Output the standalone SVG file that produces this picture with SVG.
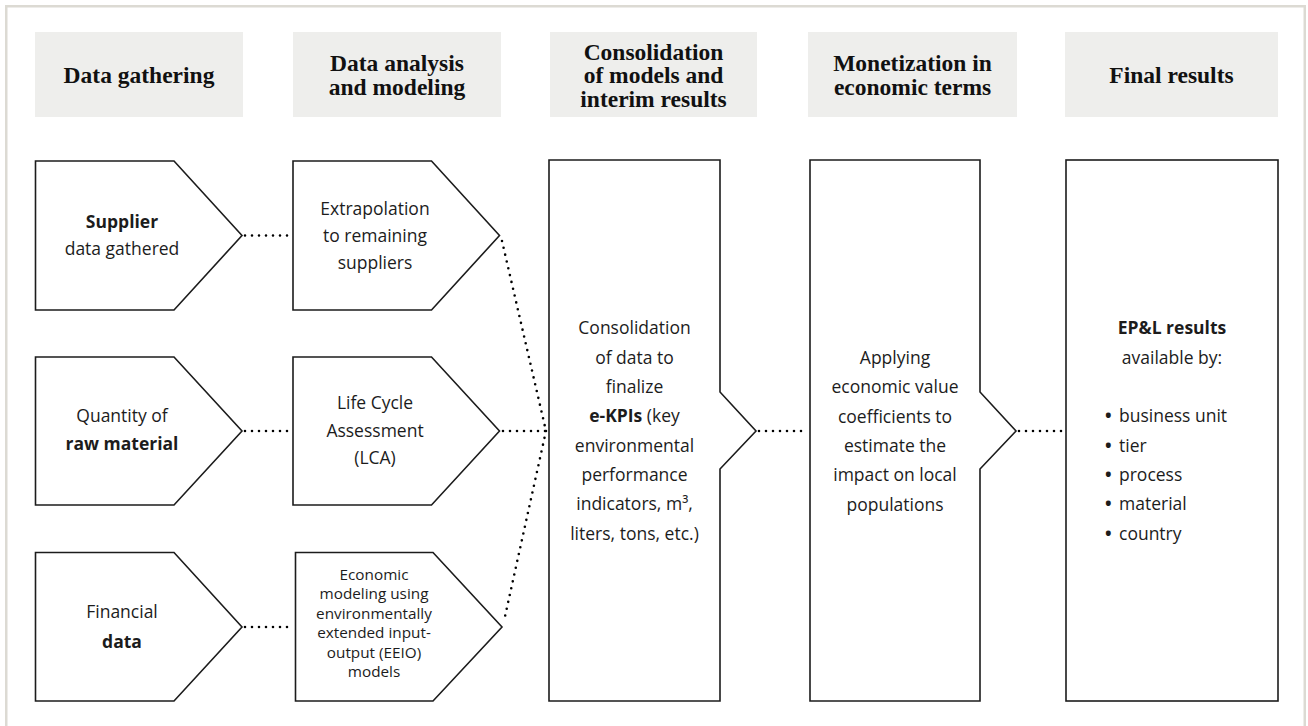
<svg xmlns="http://www.w3.org/2000/svg" width="1308" height="726" viewBox="0 0 1308 726">
<style>
.frame{fill:#ffffff;stroke:#dcdad3;stroke-width:2.5}
.hbox{fill:#eeeeec}
.htxt{font-family:"Liberation Serif","Times New Roman",serif;font-weight:700;font-size:23.5px;fill:#111;text-anchor:middle}
.shape{fill:#ffffff;stroke:#1c1c1c;stroke-width:1.6;stroke-linejoin:miter}
.t{font-family:"Open Sans","Noto Sans","DejaVu Sans",sans-serif;font-size:17.5px;fill:#1c1c1c;text-anchor:middle}
.ts{font-size:15.3px}
.b{font-weight:700}
.l{text-anchor:start}
.bul{font-weight:700}
.dot{fill:none;stroke:#000;stroke-width:2.6;stroke-linecap:round;stroke-dasharray:0 7}
</style>
<rect class="frame" x="6.25" y="6.25" width="1298.5" height="740"/>

<g id="header-1"><rect class="hbox" x="35" y="32" width="208" height="85"/><text class="htxt" x="139" y="83">Data gathering</text></g>
<g id="header-2"><rect class="hbox" x="293" y="32" width="208" height="85"/><text class="htxt" x="397" y="71">Data analysis</text><text class="htxt" x="397" y="94.5">and modeling</text></g>
<g id="header-3"><rect class="hbox" x="550" y="32" width="207" height="85"/><text class="htxt" x="653.5" y="59.5">Consolidation</text><text class="htxt" x="653.5" y="83">of models and</text><text class="htxt" x="653.5" y="106.5">interim results</text></g>
<g id="header-4"><rect class="hbox" x="808" y="32" width="209" height="85"/><text class="htxt" x="912.5" y="71">Monetization in</text><text class="htxt" x="912.5" y="94.5">economic terms</text></g>
<g id="header-5"><rect class="hbox" x="1065" y="32" width="213" height="85"/><text class="htxt" x="1171.5" y="83">Final results</text></g>

<g id="connectors">
<line class="dot" x1="245" y1="235.5" x2="291" y2="235.5"/>
<line class="dot" x1="245" y1="431" x2="291" y2="431"/>
<line class="dot" x1="245" y1="627" x2="293" y2="627"/>
<line class="dot" x1="502" y1="241" x2="546" y2="431"/>
<line class="dot" x1="503" y1="431" x2="547" y2="431"/>
<line class="dot" x1="546" y1="431" x2="504" y2="621"/>
<line class="dot" x1="759" y1="431" x2="808" y2="431"/>
<line class="dot" x1="1019" y1="431" x2="1064" y2="431"/>
</g>

<g id="supplier-data">
<path class="shape" d="M35.5,161 H174 L242,235.5 L174,310 H35.5 Z"/>
<text class="t b" x="122" y="227.5">Supplier</text>
<text class="t" x="122" y="255">data gathered</text>
</g>
<g id="raw-material">
<path class="shape" d="M35.5,357 H174 L242,431 L174,505 H35.5 Z"/>
<text class="t" x="122" y="421.7">Quantity of</text>
<text class="t b" x="122" y="450">raw material</text>
</g>
<g id="financial-data">
<path class="shape" d="M35.5,552.5 H174 L242,627 L174,701 H35.5 Z"/>
<text class="t" x="122" y="618.3">Financial</text>
<text class="t b" x="122" y="647.7">data</text>
</g>

<g id="extrapolation">
<path class="shape" d="M293,161 H431.5 L499.5,235.5 L431.5,310 H293 Z"/>
<text class="t" x="375" y="214.5">Extrapolation</text>
<text class="t" x="375" y="241.5">to remaining</text>
<text class="t" x="375" y="268.5">suppliers</text>
</g>
<g id="lca">
<path class="shape" d="M293,357 H431.5 L499.5,431 L431.5,505 H293 Z"/>
<text class="t" x="375" y="409">Life Cycle</text>
<text class="t" x="375" y="436.5">Assessment</text>
<text class="t" x="375" y="464">(LCA)</text>
</g>
<g id="eeio">
<path class="shape" d="M295.5,552.5 H433 L502,627 L433,701 H295.5 Z"/>
<text class="t ts" x="374" y="579.5">Economic</text>
<text class="t ts" x="374" y="599">modeling using</text>
<text class="t ts" x="374" y="618.5">environmentally</text>
<text class="t ts" x="374" y="638">extended input-</text>
<text class="t ts" x="374" y="657.5">output (EEIO)</text>
<text class="t ts" x="374" y="677">models</text>
</g>

<g id="consolidation">
<path class="shape" d="M549,160 H720 V392 L756,431 L720,469 V701 H549 Z"/>
<text class="t" x="634.5" y="334.4">Consolidation</text>
<text class="t" x="634.5" y="363.7">of data to</text>
<text class="t" x="634.5" y="393">finalize</text>
<text class="t" x="634.5" y="422.3"><tspan class="b">e-KPIs</tspan> (key</text>
<text class="t" x="634.5" y="451.6">environmental</text>
<text class="t" x="634.5" y="480.9">performance</text>
<text class="t" x="634.5" y="510.2">indicators, m³,</text>
<text class="t" x="634.5" y="539.5">liters, tons, etc.)</text>
</g>

<g id="monetization">
<path class="shape" d="M810,160 H980 V392 L1016,431 L980,469 V701 H810 Z"/>
<text class="t" x="895" y="364">Applying</text>
<text class="t" x="895" y="393.3">economic value</text>
<text class="t" x="895" y="422.6">coefficients to</text>
<text class="t" x="895" y="451.9">estimate the</text>
<text class="t" x="895" y="481.2">impact on local</text>
<text class="t" x="895" y="510.5">populations</text>
</g>

<g id="final-results">
<rect class="shape" x="1066" y="160" width="212" height="541"/>
<text class="t b" x="1172" y="334.4">EP&amp;L results</text>
<text class="t" x="1172" y="363.7">available by:</text>
<text class="t l" y="422.3"><tspan class="bul" x="1105">•</tspan><tspan x="1119">business unit</tspan></text>
<text class="t l" y="451.6"><tspan class="bul" x="1105">•</tspan><tspan x="1119">tier</tspan></text>
<text class="t l" y="480.9"><tspan class="bul" x="1105">•</tspan><tspan x="1119">process</tspan></text>
<text class="t l" y="510.2"><tspan class="bul" x="1105">•</tspan><tspan x="1119">material</tspan></text>
<text class="t l" y="539.5"><tspan class="bul" x="1105">•</tspan><tspan x="1119">country</tspan></text>
</g>
</svg>
